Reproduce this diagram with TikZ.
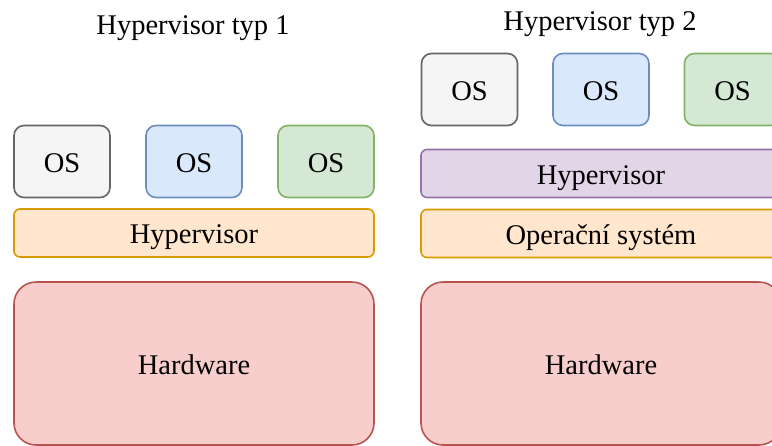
\documentclass[tikz,border=0pt]{standalone}
\usepackage{fontspec}
\setmainfont{Liberation Serif}
\definecolor{grayF}{HTML}{F5F5F5}\definecolor{grayS}{HTML}{666666}
\definecolor{blueF}{HTML}{DAE8FC}\definecolor{blueS}{HTML}{6C8EBF}
\definecolor{greenF}{HTML}{D5E8D4}\definecolor{greenS}{HTML}{82B366}
\definecolor{orangeF}{HTML}{FFE6CC}\definecolor{orangeS}{HTML}{D79B00}
\definecolor{purpleF}{HTML}{E1D5E7}\definecolor{purpleS}{HTML}{9673A6}
\definecolor{redF}{HTML}{F8CECC}\definecolor{redS}{HTML}{B85450}
\begin{document}
\begin{tikzpicture}[x=1pt,y=-1pt,
  every node/.style={font=\fontsize{28.5}{32}\selectfont, inner sep=0pt, text height=21pt, text depth=0pt},
  box/.style={draw, line width=1.6pt, rounded corners=#1},
  osbox/.style={box=10pt, minimum width=96pt, minimum height=72pt},
  bar/.style={box=6pt, minimum width=360pt, minimum height=48pt},
  hwbox/.style={box=22pt, minimum width=360pt, minimum height=163pt, fill=redF, draw=redS},
  grayc/.style={fill=grayF, draw=grayS},
  bluec/.style={fill=blueF, draw=blueS},
  greenc/.style={fill=greenF, draw=greenS},
  orangec/.style={fill=orangeF, draw=orangeS},
  purplec/.style={fill=purpleF, draw=purpleS}]
\clip (0,0) rectangle (772,445);
% left: type 1
\node (t1) at (193,23.8) {Hypervisor typ 1};
\node[osbox,grayc] (l1) at (62,161.5) {OS};
\node[osbox,bluec] (l2) at (194,161.5) {OS};
\node[osbox,greenc] (l3) at (326,161.5) {OS};
\node[bar,orangec] (lh) at (194,233) {Hypervisor};
\node[hwbox] (lw) at (194,363.5) {Hardware};
% right: type 2
\node (t2) at (600,19.8) {Hypervisor typ 2};
\node[osbox,grayc] (r1) at (469.5,89.5) {OS};
\node[osbox,bluec] (r2) at (601,89.5) {OS};
\node[osbox,greenc] (r3) at (732.5,89.5) {OS};
\node[bar,purplec] (rh) at (601,173.5) {Hypervisor};
\node[bar,orangec] (ro) at (601,233.5) {Operační systém};
\node[hwbox] (rw) at (601,363.5) {Hardware};
\end{tikzpicture}
\end{document}
